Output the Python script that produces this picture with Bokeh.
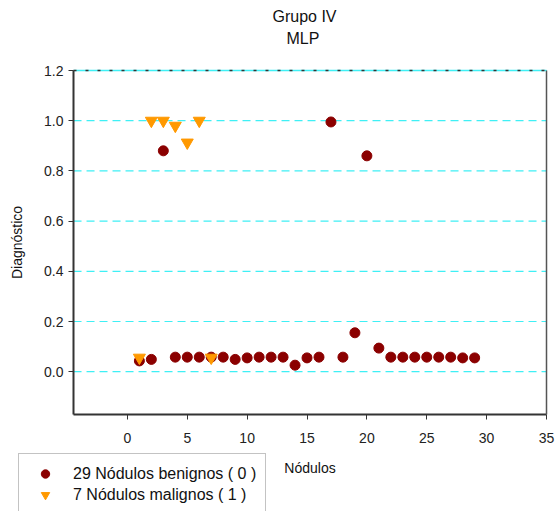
from bokeh.plotting import figure
from bokeh.models import (Legend, LegendItem, Title, FixedTicker, Range1d, LinearAxis,
                          PrintfTickFormatter)
from bokeh.embed import file_html
from bokeh.resources import INLINE

# Data
benign_x = list(range(1, 30))
benign_y = [0.043, 0.049, 0.88, 0.058, 0.058, 0.058, 0.058, 0.058, 0.049, 0.055,
            0.058, 0.058, 0.058, 0.026, 0.055, 0.058, 0.995, 0.058, 0.155, 0.86,
            0.094, 0.058, 0.058, 0.058, 0.058, 0.058, 0.058, 0.055, 0.055]
malign_x = [1, 2, 3, 4, 5, 6, 7]
malign_y = [0.056, 1.0, 1.0, 0.98, 0.913, 1.0, 0.056]
x_ticks = [0, 5, 10, 15, 20, 25, 30, 35]
y_ticks = [0.0, 0.2, 0.4, 0.6, 0.8, 1.0, 1.2]
x_lo, x_hi = -4.5, 35
y_lo, y_hi = -0.17, 1.2

FONT = "Liberation Sans"
PX_X = 11.97   # pixels per x unit
PX_Y = 251.0   # pixels per y unit
W, H = 555, 511
TOP = 70       # pixel row of y_hi
FRAME_TOP = 58
LEFT = 73
RIGHT = 546

p = figure(width=W, height=H, output_backend="svg", toolbar_location=None,
           x_range=Range1d(x_lo - LEFT / PX_X, x_hi + (W - RIGHT) / PX_X),
           y_range=Range1d(y_hi - (H - TOP) / PX_Y, y_hi + (TOP - FRAME_TOP) / PX_Y),
           x_axis_location=None, y_axis_location=None,
           min_border_left=0, min_border_right=0, min_border_top=FRAME_TOP,
           min_border_bottom=0)
p.outline_line_color = None
p.xgrid.visible = False
p.ygrid.visible = False

p.add_layout(Title(text=" ", text_font=FONT, text_font_size="4px", standoff=3), "above")
p.add_layout(Title(text="MLP", align="left", offset=286, text_font=FONT,
                   text_font_size="16px", text_font_style="normal", text_color="#111111",
                   standoff=3), "above")
p.add_layout(Title(text="Grupo IV", align="left", offset=272, text_font=FONT,
                   text_font_size="16px", text_font_style="normal", text_color="#111111",
                   standoff=3), "above")

# horizontal grid lines at the y ticks
p.segment(x0=[x_lo] * len(y_ticks), x1=[x_hi] * len(y_ticks), y0=y_ticks, y1=y_ticks,
          line_color="#3ff0f5", line_dash="8 5", line_width=1.2)


def style(ax):
    ax.axis_line_color = "#333333"
    ax.axis_line_width = 2
    ax.major_tick_line_color = "#333333"
    ax.major_tick_in = 0
    ax.major_tick_out = 5
    ax.minor_tick_line_color = None
    ax.major_label_text_font = FONT
    ax.major_label_text_font_size = "14px"
    ax.major_label_text_color = "#222222"
    ax.axis_label_text_font = FONT
    ax.axis_label_text_font_size = "14px"
    ax.axis_label_text_font_style = "normal"
    ax.axis_label_text_color = "#111111"


xax = LinearAxis(fixed_location=y_lo, bounds=(x_lo, x_hi), ticker=FixedTicker(ticks=x_ticks),
                 axis_label="Nódulos", axis_label_standoff=13)
style(xax)
xax.major_label_standoff = 14
p.add_layout(xax, "below")

yax = LinearAxis(fixed_location=x_lo, bounds=(y_lo, y_hi), ticker=FixedTicker(ticks=y_ticks),
                 formatter=PrintfTickFormatter(format="%.1f"),
                 axis_label="Diagnóstico", axis_label_standoff=16)
style(yax)
p.add_layout(yax, "left")

# right border
rax = LinearAxis(fixed_location=x_hi, bounds=(y_lo, y_hi), ticker=FixedTicker(ticks=[]),
                 major_label_text_font_size="0px", axis_line_color="#555555",
                 axis_line_width=1.5, major_tick_line_color=None, minor_tick_line_color=None)
p.add_layout(rax, "right")

# top border: cyan line with black dashes
tax1 = LinearAxis(fixed_location=y_hi, bounds=(x_lo, x_hi), ticker=FixedTicker(ticks=[]),
                  major_label_text_font_size="0px", axis_line_color="#3ff0f5",
                  axis_line_width=1.5, major_tick_line_color=None, minor_tick_line_color=None)
tax2 = LinearAxis(fixed_location=y_hi, bounds=(x_lo, x_hi), ticker=FixedTicker(ticks=[]),
                  major_label_text_font_size="0px", axis_line_color="#333333",
                  axis_line_width=1.5, axis_line_dash="3 9",
                  major_tick_line_color=None, minor_tick_line_color=None)
p.add_layout(tax1, "above")
p.add_layout(tax2, "above")

r1 = p.scatter(benign_x, benign_y, marker="circle", size=10, fill_color="#8b0000",
               line_color="#8b0000")
r2 = p.scatter(malign_x, malign_y, marker="inverted_triangle", size=12, fill_color="#ff9900",
               line_color="#ff9900")

legend = Legend(items=[LegendItem(label="29 Nódulos benignos ( 0 )", renderers=[r1]),
                       LegendItem(label="7 Nódulos malignos ( 1 )", renderers=[r2])],
                location=(18, -4), orientation="vertical",
                label_text_font=FONT, label_text_font_size="16px", label_text_color="#111111",
                glyph_width=34, glyph_height=21, label_height=21, spacing=0,
                padding=9, margin=0, label_standoff=11,
                border_line_color="#888888", border_line_width=1,
                background_fill_color="white", background_fill_alpha=1)
p.add_layout(legend, "center")

open("out.html", "w").write(file_html(p, INLINE))
